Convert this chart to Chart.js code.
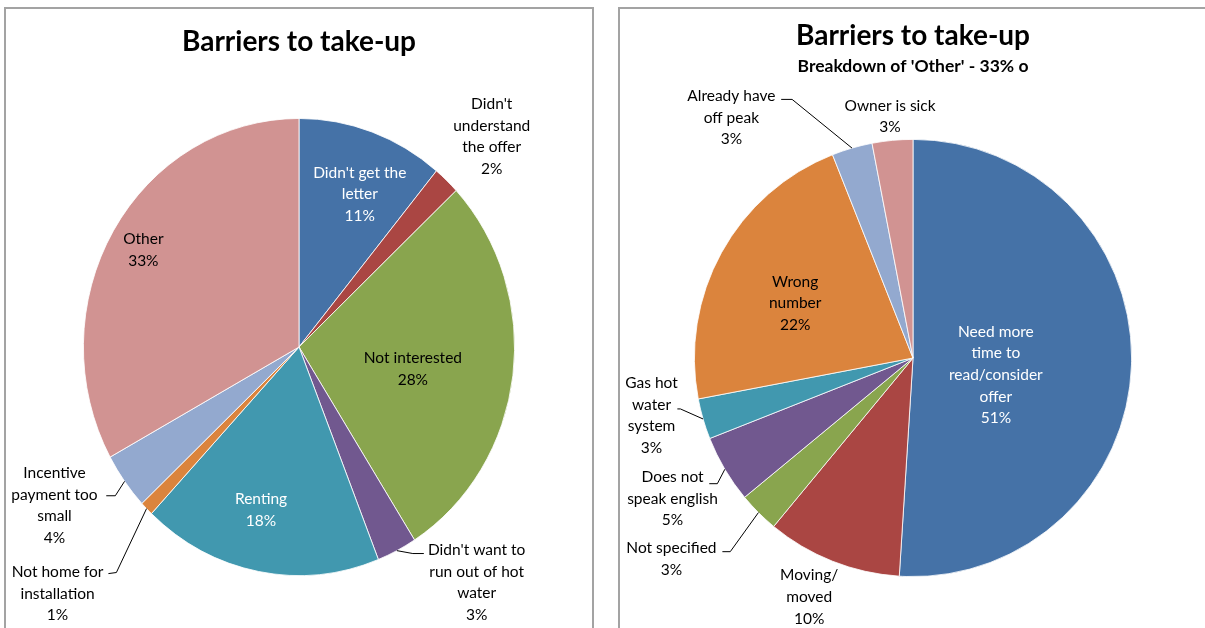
<!DOCTYPE html>
<html>
<head>
<meta charset="utf-8">
<title>Barriers to take-up</title>
<script src="https://cdn.jsdelivr.net/npm/chart.js@4.4.1/dist/chart.umd.min.js"></script>
<style>
  html, body { margin: 0; padding: 0; background: #fff; overflow: hidden; }
  body { width: 1205px; height: 628px; position: relative; }
  .panel { position: absolute; top: 7px; height: 640px; border: 2px solid #a3a3a3; box-sizing: border-box; }
  #leftPanel { left: 4px; width: 590px; }
  #rightPanel { left: 618px; width: 620px; }
  canvas { position: absolute; top: 0; }
  #barriers { left: 0; }
  #other { left: 606px; }
</style>
</head>
<body>
<div class="panel" id="leftPanel"></div>
<div class="panel" id="rightPanel"></div>
<canvas id="barriers" width="600" height="628"></canvas>
<canvas id="other" width="599" height="628"></canvas>
<script>
// all respondents
var barrierLabels = ["Didn't get the letter", "Didn't understand the offer", "Not interested",
    "Didn't want to run out of hot water", "Renting", "Not home for installation",
    "Incentive payment too small", "Other"];
var barrierValues = [11, 2, 28, 3, 18, 1, 4, 33];

// the "Other" group split up
var otherLabels = ["Need more time to read/consider offer", "Moving/ moved", "Not specified",
    "Does not speak english", "Gas hot water system", "Wrong number",
    "Already have off peak", "Owner is sick"];
var otherValues = [51, 10, 3, 5, 3, 22, 3, 3];

var palette = ["#4572A7", "#AA4643", "#89A54E", "#71588F", "#4198AF", "#DB843D", "#93A9CF", "#D19392"];

var FONT = 'Lato, "Open Sans", sans-serif';

// label placement, in units of the pie radius from its centre
var barrierLayout = [
    { at: [0.282, -0.709], wrap: 104, color: "#fff" },
    { at: [0.894, -0.977], wrap: 80 },
    { at: [0.528, 0.102], wrap: 130 },
    { at: [0.824, 1.093], wrap: 104, leader: [[0.528, 0.958], [0.579, 0.958]] },
    { at: [-0.176, 0.755], wrap: 100, color: "#fff" },
    { at: [-1.120, 1.144], wrap: 100, leader: [[-0.847, 1.046], [-0.884, 1.051]] },
    { at: [-1.134, 0.736], wrap: 100, leader: [[-0.852, 0.690], [-0.894, 0.690]] },
    { at: [-0.722, -0.449], wrap: 100 }
];

var otherLayout = [
    { at: [0.379, 0.078], wrap: 106, color: "#fff" },
    { at: [-0.475, 1.093], wrap: 60 },
    { at: [-1.105, 0.920], wrap: 130, leader: [[-0.836, 0.886], [-0.872, 0.886]] },
    { at: [-1.100, 0.644], wrap: 100, leader: [[-0.895, 0.575], [-0.932, 0.575]] },
    { at: [-1.196, 0.263], wrap: 60, leader: [[-1.064, 0.233], [-1.078, 0.233]] },
    { at: [-0.539, -0.251], wrap: 70 },
    { at: [-0.831, -1.100], wrap: 100, leader: [[-0.553, -1.183], [-0.603, -1.183]] },
    { at: [-0.105, -1.105], wrap: 130 }
];

function wrapText(ctx, text, maxWidth) {
    var words = text.split(" ");
    var lines = [];
    var cur = "";
    words.forEach(function (w) {
        var test = cur ? cur + " " + w : w;
        if (cur && ctx.measureText(test).width > maxWidth) {
            lines.push(cur);
            cur = w;
        } else {
            cur = test;
        }
    });
    if (cur) lines.push(cur);
    return lines;
}

// draws the slice labels (category + percent) and leader lines;
// stretch squashes/stretches the pie vertically around its centre
function pieLabels(layout, stretch) {
    return {
        id: "pieLabels",
        beforeDatasetDraw: function (chart) {
            var arc = chart.getDatasetMeta(0).data[0];
            var ctx = chart.ctx;
            ctx.save();
            if (stretch !== 1) {
                ctx.translate(arc.x, arc.y);
                ctx.scale(1, stretch);
                ctx.translate(-arc.x, -arc.y);
            }
        },
        afterDatasetDraw: function (chart) {
            chart.ctx.restore();
        },
        afterDatasetsDraw: function (chart) {
            var ctx = chart.ctx;
            var meta = chart.getDatasetMeta(0);
            var values = chart.data.datasets[0].data;
            var total = values.reduce(function (a, b) { return a + b; }, 0);
            ctx.save();
            ctx.font = "15.5px " + FONT;
            ctx.textAlign = "center";
            ctx.textBaseline = "middle";
            meta.data.forEach(function (el, i) {
                var p = el.getProps(["x", "y", "startAngle", "endAngle", "outerRadius"], true);
                var spec = layout[i];
                var r = p.outerRadius;
                var lx = p.x + spec.at[0] * r;
                var ly = p.y + spec.at[1] * r;

                if (spec.leader) {
                    var mid = (p.startAngle + p.endAngle) / 2;
                    ctx.beginPath();
                    ctx.moveTo(p.x + r * Math.cos(mid), p.y + r * stretch * Math.sin(mid));
                    spec.leader.forEach(function (q) {
                        ctx.lineTo(p.x + q[0] * r, p.y + q[1] * r);
                    });
                    ctx.strokeStyle = "#000";
                    ctx.lineWidth = 1;
                    ctx.stroke();
                }

                var lines = wrapText(ctx, chart.data.labels[i], spec.wrap);
                lines.push(Math.round(values[i] / total * 100) + "%");
                var lh = 21.6;
                var y0 = ly - (lines.length - 1) * lh / 2;
                ctx.fillStyle = spec.color || "#000";
                lines.forEach(function (t, j) {
                    ctx.fillText(t, lx, y0 + j * lh);
                });
            });
            ctx.restore();
        }
    };
}

new Chart(document.getElementById("barriers"), {
    type: "pie",
    data: {
        labels: barrierLabels,
        datasets: [{
            data: barrierValues,
            backgroundColor: palette,
            borderColor: "#fff",
            borderWidth: 0.8,
            clip: false
        }]
    },
    options: {
        responsive: false,
        animation: false,
        events: [],
        devicePixelRatio: 1,
        layout: { padding: { left: 83, right: 85, top: 0, bottom: 65 } },
        plugins: {
            legend: { display: false },
            tooltip: { enabled: false },
            title: {
                display: true,
                text: "Barriers to take-up",
                color: "#000",
                font: { family: FONT, size: 28, weight: "bold" },
                padding: { top: 25.2, bottom: 72.2 }
            }
        }
    },
    plugins: [pieLabels(barrierLayout, 1.06)]
});

new Chart(document.getElementById("other"), {
    type: "pie",
    data: {
        labels: otherLabels,
        datasets: [{
            data: otherValues,
            backgroundColor: palette,
            borderColor: "#fff",
            borderWidth: 0.8,
            clip: false
        }]
    },
    options: {
        responsive: false,
        animation: false,
        events: [],
        devicePixelRatio: 1,
        layout: { padding: { left: 88, right: 73, top: 0, bottom: 51 } },
        plugins: {
            legend: { display: false },
            tooltip: { enabled: false },
            title: {
                display: true,
                text: "Barriers to take-up",
                color: "#000",
                font: { family: FONT, size: 28, weight: "bold" },
                padding: { top: 19.2, bottom: 0 }
            },
            subtitle: {
                display: true,
                text: "Breakdown of 'Other' - 33% o",
                color: "#000",
                font: { family: FONT, size: 17.5, weight: "bold" },
                padding: { top: 2.7, bottom: 62.5 }
            }
        }
    },
    plugins: [pieLabels(otherLayout, 1)]
});
</script>
</body>
</html>
